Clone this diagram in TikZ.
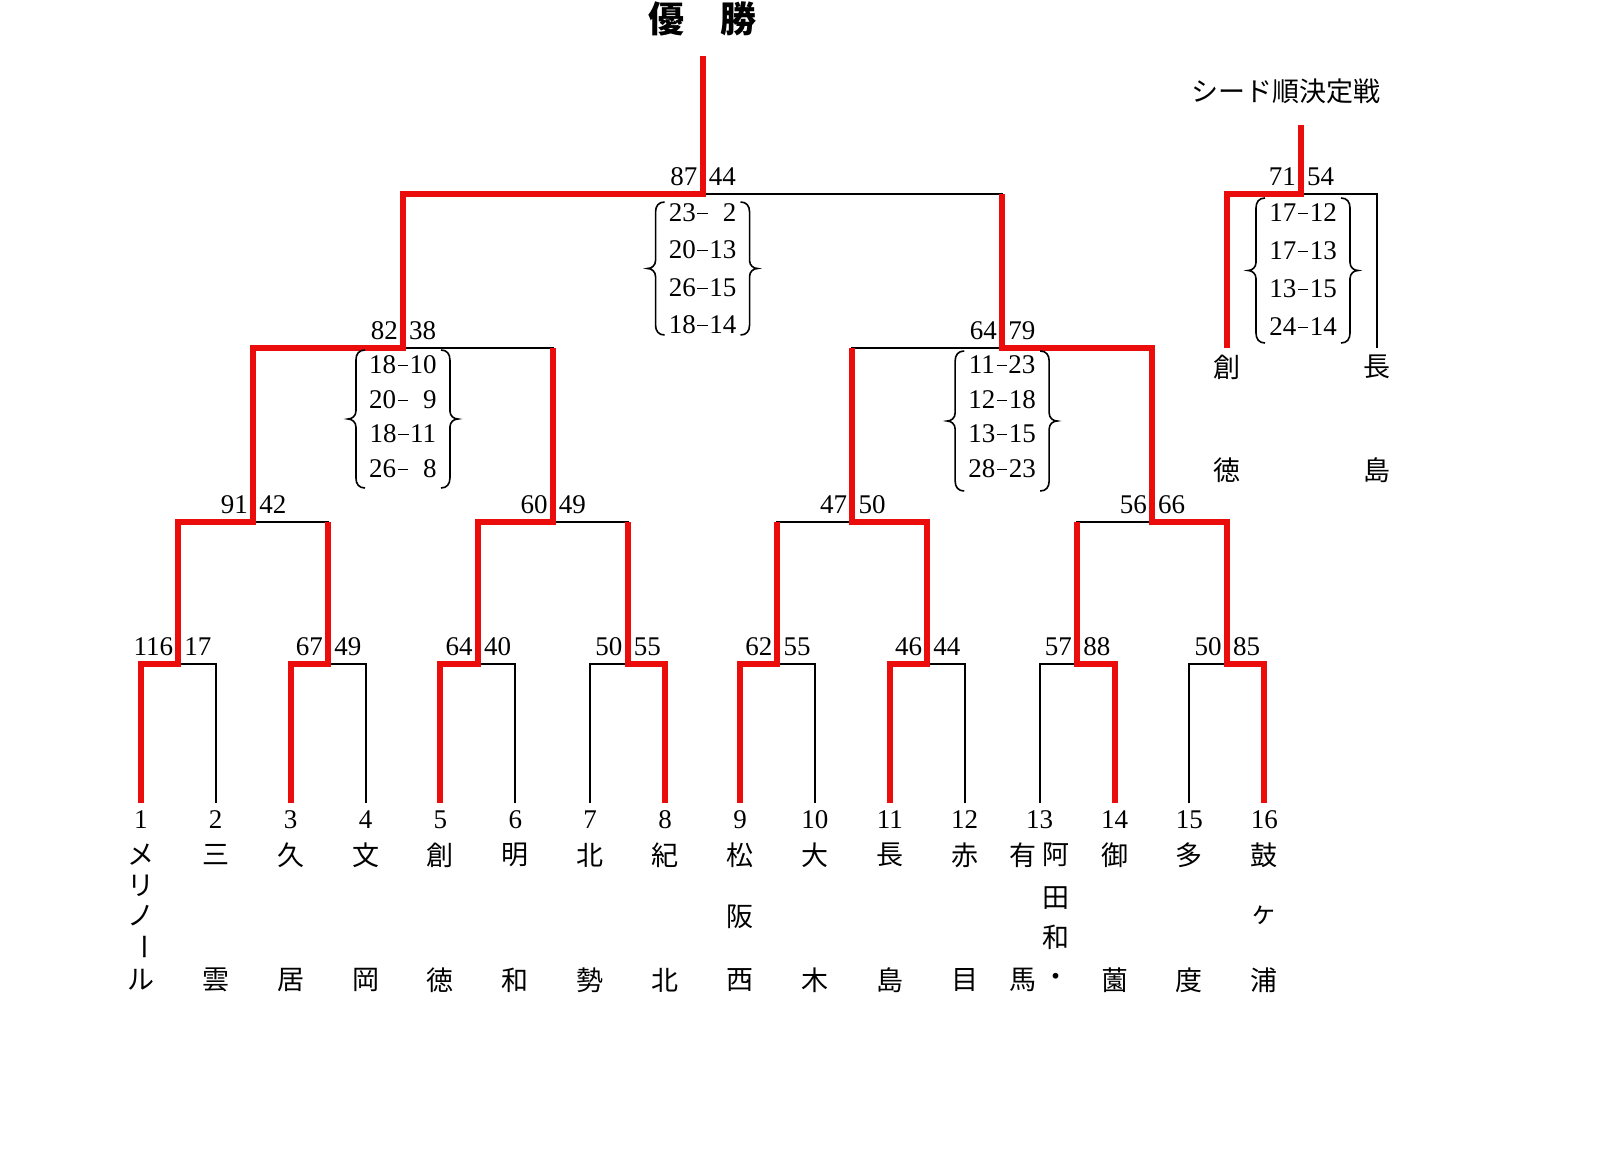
\documentclass[tikz,border=0pt]{standalone}
\usepackage{fontspec}
\setmainfont{Liberation Serif}
\newfontfamily\jp{Noto Sans CJK JP}
\usetikzlibrary{calc}
\definecolor{bred}{RGB}{235,12,12}
\newcommand\scdash{\makebox[0.5em]{\rule[0.28em]{0.38em}{0.045em}}}
\newcommand\scorebrace[3]{%
\draw[brc] ({#1-38},#2) .. controls ({#1-44},#2) and ({#1-47},{#2+4}) .. ({#1-47},{#2+10})
  -- ({#1-47},{(#2+#3)/2-8}) .. controls ({#1-47},{(#2+#3)/2-3}) and ({#1-51},{(#2+#3)/2}) .. ({#1-55},{(#2+#3)/2})
  .. controls ({#1-51},{(#2+#3)/2}) and ({#1-47},{(#2+#3)/2+3}) .. ({#1-47},{(#2+#3)/2+8})
  -- ({#1-47},{#3-10}) .. controls ({#1-47},{#3-4}) and ({#1-44},#3) .. ({#1-38},#3);
\draw[brc] ({#1+38},#2) .. controls ({#1+44},#2) and ({#1+47},{#2+4}) .. ({#1+47},{#2+10})
  -- ({#1+47},{(#2+#3)/2-8}) .. controls ({#1+47},{(#2+#3)/2-3}) and ({#1+51},{(#2+#3)/2}) .. ({#1+55},{(#2+#3)/2})
  .. controls ({#1+51},{(#2+#3)/2}) and ({#1+47},{(#2+#3)/2+3}) .. ({#1+47},{(#2+#3)/2+8})
  -- ({#1+47},{#3-10}) .. controls ({#1+47},{#3-4}) and ({#1+44},#3) .. ({#1+38},#3);
}
\begin{document}
\begin{tikzpicture}[x=1pt,y=-1pt,
  blk/.style={line width=2pt, black},
  win/.style={line width=6pt, bred, line join=miter},
  num/.style={inner sep=0pt, font=\fontsize{27}{27}\selectfont},
  jpc/.style={inner sep=0pt, font=\jp\fontsize{27}{27}\selectfont},
  brc/.style={line width=1.6pt, black}]
\useasboundingbox (0,0) rectangle (1600,1161);
\fill[white] (0,0) rectangle (1600,1161);

% coordinates
\foreach \i in {1,...,16}{\coordinate (L\i) at ({140.8+74.9*(\i-1)},803);}
\foreach \k in {1,...,8}{\coordinate (m\k) at ({178.25+149.8*(\k-1)},664);}
\foreach \k in {1,...,4}{\coordinate (n\k) at ({253.15+299.6*(\k-1)},522);}
\coordinate (s1) at (402.95,348);
\coordinate (s2) at (1002.15,348);
\coordinate (f) at (702.55,194);
\coordinate (top) at (702.55,56);
\coordinate (sd) at (1301,194);
\coordinate (sdtop) at (1301,125);
\coordinate (sdL) at (1226.5,348);
\coordinate (sdR) at (1376.5,348);

% black bracket
\foreach \k in {1,...,8}{
  \pgfmathtruncatemacro\a{2*\k-1}\pgfmathtruncatemacro\b{2*\k}
  \draw[blk] (L\a) |- (m\k) -| (L\b);}
\foreach \k in {1,...,4}{
  \pgfmathtruncatemacro\a{2*\k-1}\pgfmathtruncatemacro\b{2*\k}
  \draw[blk] (m\a) |- (n\k) -| (m\b);}
\draw[blk] (n1) |- (s1) -| (n2);
\draw[blk] (n3) |- (s2) -| (n4);
\draw[blk] (s1) |- (f) -| (s2);
\draw[blk] (f) -- (top);
\draw[blk] (sdL) |- (sd) -| (sdR);
\draw[blk] (sd) -- (sdtop);

% winners (red)
\draw[win] (L1) |- (m1) |- (n1) |- (s1) |- (f) -- (top);
\draw[win] (L3) |- (m2) -- (m2 |- n1);
\draw[win] (L5) |- (m3) |- (n2) -- (n2 |- s1);
\draw[win] (L8) |- (m4) -- (m4 |- n2);
\draw[win] (L9) |- (m5) -- (m5 |- n3);
\draw[win] (L11) |- (m6) |- (n3) -- (n3 |- s2);
\draw[win] (L14) |- (m7) -- (m7 |- n4);
\draw[win] (L16) |- (m8) |- (n4) |- (s2) -- (s2 |- f);
\draw[win] (sdL) |- (sd) -- (sdtop);

% scores
\foreach \c/\a/\b in {m1/116/17, m2/67/49, m3/64/40, m4/50/55, m5/62/55, m6/46/44, m7/57/88, m8/50/85,
  n1/91/42, n2/60/49, n3/47/50, n4/56/66, s1/82/38, s2/64/79, f/87/44, sd/71/54}{
  \node[num, anchor=east] (\c a) at ($(\c)+(-5,-17)$) {\a};
  \node[num, anchor=west] (\c b) at ($(\c)+(6,-17)$) {\b};
}

% set scores
\node[num] (fs1) at (702.55,213) {23\scdash\phantom{0}2};
\node[num] (fs2) at (702.55,250) {20\scdash13};
\node[num] (fs3) at (702.55,288) {26\scdash15};
\node[num] (fs4) at (702.55,325) {18\scdash14};
\scorebrace{702.55}{202}{335}

\node[num] (as1) at (402.95,365) {18\scdash10};
\node[num] (as2) at (402.95,400) {20\scdash\phantom{0}9};
\node[num] (as3) at (402.95,434) {18\scdash11};
\node[num] (as4) at (402.95,469) {26\scdash\phantom{0}8};
\scorebrace{402.95}{350}{488}

\node[num] (bs1) at (1002.15,365) {11\scdash23};
\node[num] (bs2) at (1002.15,400) {12\scdash18};
\node[num] (bs3) at (1002.15,434) {13\scdash15};
\node[num] (bs4) at (1002.15,469) {28\scdash23};
\scorebrace{1002.15}{351}{491}

\node[num] (ds1) at (1303,213) {17\scdash12};
\node[num] (ds2) at (1303,251) {17\scdash13};
\node[num] (ds3) at (1303,289) {13\scdash15};
\node[num] (ds4) at (1303,327) {24\scdash14};
\scorebrace{1303}{198}{343}

% titles
\node[inner sep=0pt, font=\jp\bfseries\fontsize{36}{36}\selectfont] (title) at (702.55,19) {優　勝};
\node[jpc] (sdtitle) at (1286,91) {シード順決定戦};

% seeding names
\node[jpc] (sdn1) at (1226.5,367) {創};
\node[jpc] (sdn2) at (1226.5,470) {徳};
\node[jpc] (sdn3) at (1376.5,367) {長};
\node[jpc] (sdn4) at (1376.5,470) {島};

% leaf numbers
\foreach \i in {1,...,16}{\node[num] (no\i) at ($(L\i)+(0,17)$) {\i};}

% team names
\foreach \i/\dx/\y/\ch in {1/0/855/メ, 1/0/886/リ, 1/0/916/ノ, 1/0/980/ル,
  2/0/855/三, 2/0/980/雲, 3/0/855/久, 3/0/980/居, 4/0/855/文, 4/0/980/岡,
  5/0/855/創, 5/0/980/徳, 6/0/855/明, 6/0/980/和, 7/0/855/北, 7/0/980/勢,
  8/0/855/紀, 8/0/980/北, 9/0/855/松, 9/0/917/阪, 9/0/980/西,
  10/0/855/大, 10/0/980/木, 11/0/855/長, 11/0/980/島, 12/0/855/赤, 12/0/980/目,
  13/-16.5/855/有, 13/-16.5/980/馬, 13/16.5/855/阿, 13/16.5/898/田, 13/16.5/937/和, 13/16.5/980/・,
  14/0/855/御, 14/0/980/薗, 15/0/855/多, 15/0/980/度,
  16/0/855/鼓, 16/0/915/ヶ, 16/0/980/浦}{
  \node[jpc] (nm\i-\y-\dx) at ({140.8+74.9*(\i-1)+\dx},\y) {\ch};
}
\node[jpc, rotate=-90] (nm1-947) at (140.8,947) {ー};
\end{tikzpicture}
\end{document}
